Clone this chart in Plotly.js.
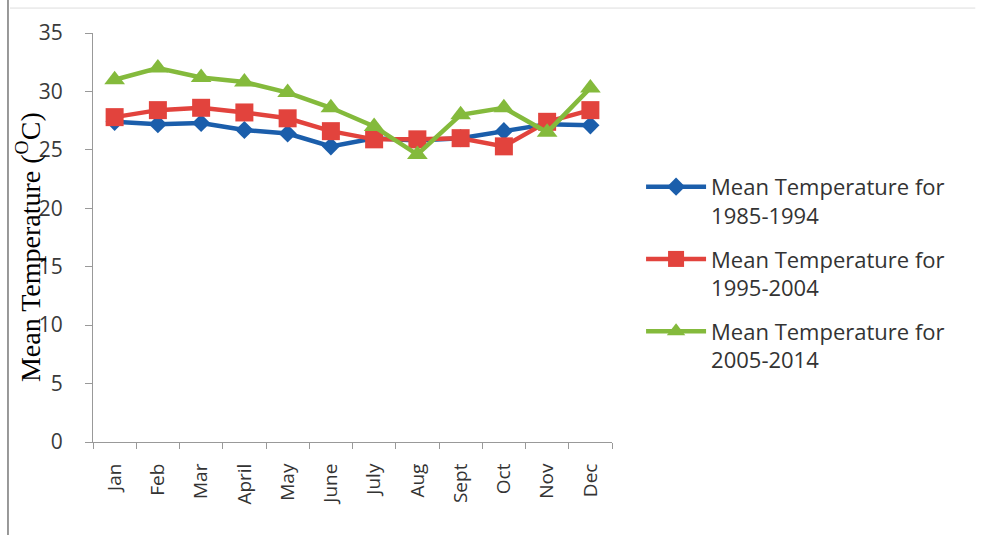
<!DOCTYPE html>
<html>
<head>
<meta charset="utf-8">
<script src="https://cdn.plot.ly/plotly-3.0.1.min.js"></script>
<style>html,body{margin:0;padding:0;background:#fff;}#chart{width:982px;height:535px;}</style>
</head>
<body>
<div id="chart"></div>
<script>
const months = ["Jan","Feb","Mar","April","May","June","July","Aug","Sept","Oct","Nov","Dec"];
const temp1985_1994 = [27.4, 27.2, 27.3, 26.7, 26.4, 25.3, 26.0, 25.8, 26.0, 26.6, 27.2, 27.1];
const temp1995_2004 = [27.8, 28.4, 28.6, 28.2, 27.7, 26.6, 25.9, 25.9, 26.0, 25.3, 27.4, 28.4];
const temp2005_2014 = [31.0, 32.0, 31.2, 30.8, 29.9, 28.6, 27.0, 24.6, 28.0, 28.6, 26.5, 30.3];
const seriesNames = ["Mean Temperature for<br>1985-1994","Mean Temperature for<br>1995-2004","Mean Temperature for<br>2005-2014"];
const yTicks = [0,5,10,15,20,25,30,35];
const yTitle = "Mean Temperature (<sup>O</sup>C)";

const colors = ["#1b5eab", "#e2433d", "#84ba3c"];
const symbols = ["diamond", "square", "triangle-up"];
const sizes = [14, 18, 18];
const data = [temp1985_1994, temp1995_2004, temp2005_2014].map((vals, i) => ({
  type: "scatter", mode: "lines+markers",
  x: months, y: vals, name: seriesNames[i],
  legendgroup: "g" + i,
  line: {color: colors[i], width: 4.5},
  marker: {color: colors[i], symbol: symbols[i], size: sizes[i]}
}));

const layout = {
  width: 982, height: 535,
  margin: {l: 93, r: 370, t: 33, b: 93},
  paper_bgcolor: "#fff", plot_bgcolor: "#fff",
  showlegend: true,
  legend: {
    x: 1.056, xanchor: "left", y: 0.675, yanchor: "top",
    font: {family: "Open Sans, sans-serif", size: 22, color: "#333"},
    traceorder: "grouped", tracegroupgap: 12, itemwidth: 60, valign: "top"
  },
  xaxis: {
    type: "category", range: [-0.5, 11.5],
    showline: true, linecolor: "#999", linewidth: 1,
    ticks: "outside", tickson: "boundaries", ticklen: 6, tickcolor: "#999",
    ticklabelstandoff: 13,
    tickangle: -90, tickfont: {family: "Open Sans, sans-serif", size: 19, color: "#333"},
    showgrid: false, zeroline: false, fixedrange: true
  },
  yaxis: {
    range: [0, 35], tickvals: yTicks,
    showline: true, linecolor: "#999", linewidth: 1,
    ticks: "outside", ticklen: 7, tickcolor: "#999",
    ticklabelstandoff: 18,
    tickfont: {family: "Open Sans, sans-serif", size: 21, color: "#3a3a3a"},
    showgrid: false, zeroline: false
  },
  annotations: [
    {text: yTitle, xref: "paper", yref: "paper", x: -0.123, y: 0.477, xanchor: "center", yanchor: "middle",
     textangle: -90, showarrow: false, font: {family: "Liberation Serif, Times New Roman, serif", size: 28, color: "#000"}}
  ],
  shapes: [
    {type: "line", xref: "paper", yref: "paper", x0: -0.1638, x1: -0.1638, y0: -0.23, y1: 1.09, line: {color: "#777", width: 1.5}},
    {type: "line", xref: "paper", yref: "paper", x0: -0.16, x1: 1.7, y0: 1.061, y1: 1.061, line: {color: "#ddd", width: 1}}
  ]
};
Plotly.newPlot("chart", data, layout, {displayModeBar: false, staticPlot: true});
</script>
</body>
</html>
